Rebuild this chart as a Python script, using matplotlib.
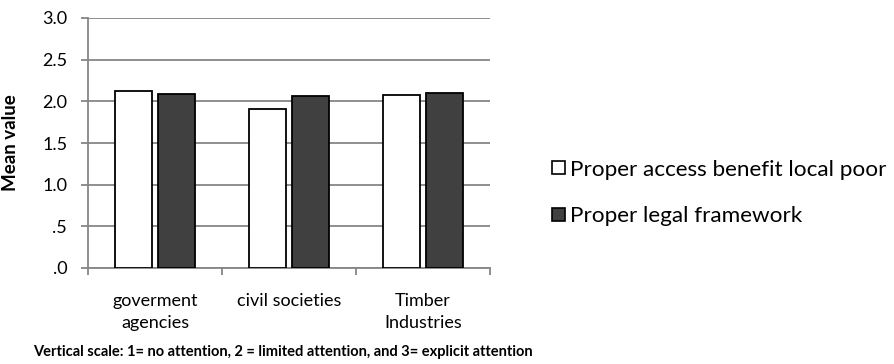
import matplotlib
matplotlib.use("Agg")
import matplotlib.pyplot as plt
from matplotlib.patches import Patch
import numpy as np

plt.rcParams['font.family'] = ['Lato', 'DejaVu Sans']

categories = ["goverment\nagencies", "civil societies", "Timber\nIndustries"]
series_names = ["Proper access benefit local poor", "Proper legal framework"]
access_benefit = [2.12, 1.91, 2.08]
legal_framework = [2.09, 2.06, 2.10]
y_ticks = [0.0, 0.5, 1.0, 1.5, 2.0, 2.5, 3.0]
y_tick_labels = [".0", ".5", "1.0", "1.5", "2.0", "2.5", "3.0"]
note = "Vertical scale: 1= no attention, 2 = limited attention, and 3= explicit attention"

grid_col = "#868686"
dark = "#404040"

fig = plt.figure(figsize=(8.95, 3.64), dpi=100)
ax = fig.add_axes([88 / 895, 1 - 268 / 364, (490 - 88) / 895, (268 - 18) / 364])

x = np.arange(len(categories))
w = 0.27
off = 0.16
ax.bar(x - off, access_benefit, w, color="white", edgecolor="black", linewidth=1.3, zorder=3)
ax.bar(x + off, legal_framework, w, color=dark, edgecolor="black", linewidth=1.3, zorder=3)

ax.set_xlim(-0.5, len(categories) - 0.5)
ax.set_ylim(0, 3.0)
ax.set_yticks(y_ticks)
ax.set_yticklabels(y_tick_labels)
ax.yaxis.grid(True, color=grid_col, linewidth=1.3, zorder=0)
ax.set_axisbelow(True)

for s in ["top", "right"]:
    ax.spines[s].set_visible(False)
for s in ["left", "bottom"]:
    ax.spines[s].set_color(grid_col)
    ax.spines[s].set_linewidth(1.3)

ax.tick_params(axis="y", direction="out", length=5, width=1.3, color=grid_col,
               labelsize=13, pad=10, labelcolor="black")
ax.set_xticks(x)
ax.set_xticklabels(categories, fontsize=13, linespacing=1.45)
ax.tick_params(axis="x", which="major", length=0, pad=18)
ax.set_xticks(np.arange(-0.5, len(categories)), minor=True)
ax.tick_params(axis="x", which="minor", direction="out", length=5, width=1.3, color=grid_col)

ax.set_ylabel("Mean value", fontsize=13.5, fontweight="bold")
ax.yaxis.set_label_coords((19 - 88) / 402, 0.5)

handles = [Patch(facecolor="white", edgecolor="black", linewidth=1.2),
           Patch(facecolor=dark, edgecolor="black", linewidth=1.2)]
fig.legend(handles, series_names, loc="center left", bbox_to_anchor=(541 / 895, 1 - 193 / 364),
           frameon=False, fontsize=16.2, handlelength=0.55, handleheight=0.55,
           handletextpad=0.25, labelspacing=1.2, borderpad=0)

fig.text(33 / 895, 1 - 352 / 364, note, fontsize=10.5, fontweight="bold", va="center", ha="left")

fig.savefig("out.png", dpi=100)
